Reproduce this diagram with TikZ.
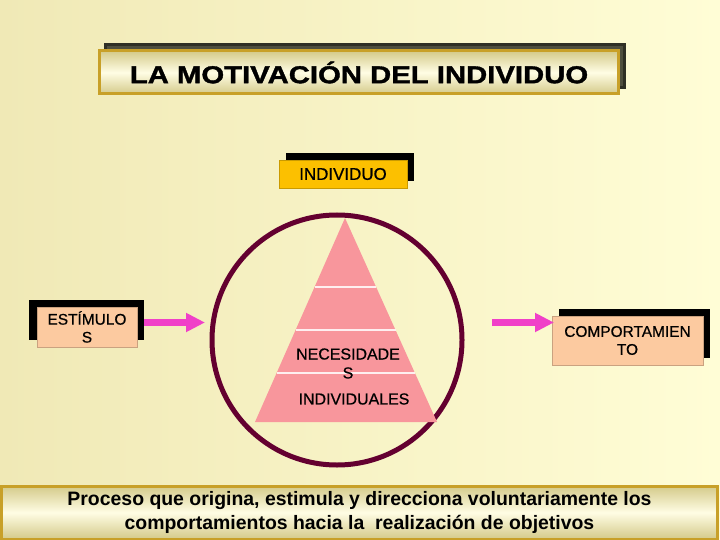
\documentclass[tikz,border=0pt]{standalone}
\usepackage{fontspec}
\setmainfont{Liberation Sans}
\newfontfamily\titfont{Liberation Sans}[FakeStretch=1.2,FakeBold=1.5]
\newfontfamily\cajafont{Liberation Sans}[FakeBold=0.6]
\usetikzlibrary{arrows.meta,shadows,calc}

\definecolor{fondoA}{RGB}{240,233,182}
\definecolor{fondoB}{RGB}{255,253,214}
\definecolor{caqui}{RGB}{212,202,138}
\definecolor{crema}{RGB}{255,253,228}
\definecolor{oro}{RGB}{200,160,40}
\definecolor{sombra}{RGB}{78,78,62}
\definecolor{amarillo}{RGB}{252,192,0}
\definecolor{durazno}{RGB}{252,202,160}
\definecolor{rosa}{RGB}{240,64,200}
\definecolor{granate}{RGB}{100,0,48}
\definecolor{salmon}{RGB}{248,150,156}

\begin{document}
\begin{tikzpicture}[x=1bp,y=-1bp,
    marco/.style={draw=oro,line width=3bp,top color=caqui,bottom color=caqui,middle color=crema},
    cajita/.style={draw=#1!80!black,fill=#1,line width=0.8bp,align=center,
        drop shadow={shadow xshift=7bp,shadow yshift=7bp,fill=black,opacity=1}},
    flecha/.style={rosa,line width=7bp,-{Triangle[length=19bp,width=18bp]}},
    rotulo/.style={font=\cajafont\fontsize{16}{19}\selectfont,align=center}]
    \useasboundingbox (0,0) rectangle (720,540);
    \fill[left color=fondoA,right color=fondoB] (0,0) rectangle (720,540);
    % titulo
    \draw (359,72.5) node[marco,minimum width=518bp,minimum height=43bp,
        drop shadow={shadow xshift=6bp,shadow yshift=6bp,fill=sombra,draw=sombra!60!black,opacity=1}]
        (tit) {\titfont\bfseries\fontsize{24.5}{28}\selectfont LA MOTIVACIÓN DEL INDIVIDUO};
    % cajas
    \draw (343,174) node[cajita=amarillo,minimum width=128bp,minimum height=28bp,
        font=\cajafont\fontsize{17}{20}\selectfont] (ind) {INDIVIDUO};
    \draw (87,327) node[cajita=durazno,minimum width=100bp,minimum height=40bp,
        font=\cajafont\fontsize{15.5}{18}\selectfont,drop shadow={shadow xshift=-8bp,shadow yshift=7bp,fill=black,opacity=1}]
        (est) {ESTÍMULO\\S};
    \draw (627.5,340.5) node[cajita=durazno,minimum width=151bp,minimum height=49bp,
        font=\cajafont\fontsize{15.5}{18}\selectfont] (comp) {COMPORTAMIEN\\TO};
    % circulo y piramide
    \draw (337,340) node[circle,draw=granate,line width=5bp,minimum size=250bp,inner sep=0] (circ) {};
    \coordinate (ap) at (345,218);
    \coordinate (bl) at (255,422);
    \coordinate (br) at (437,422);
    \fill[salmon] (ap) -- (bl) -- (br) -- cycle;
    \foreach \t in {0.338,0.549,0.760}
        \draw[white!85!salmon,line width=1.2bp] ($(ap)!\t!(bl)$) -- ($(ap)!\t!(br)$);
    \draw (348,363.5) node[rotulo] (nec) {NECESIDADE\\S};
    \draw (354,399) node[rotulo] (indiv) {INDIVIDUALES};
    % flechas
    \coordinate (a1) at (144,322.5);
    \coordinate (a2) at (205,322.5);
    \coordinate (b1) at (492,322.5);
    \coordinate (b2) at (554,322.5);
    \draw[flecha] (a1) -- (a2);
    \draw[flecha] (b1) -- (b2);
    % definicion
    \draw (359.5,512.5) node[marco,minimum width=715bp,minimum height=53bp,align=center,
        font=\bfseries\fontsize{19.5}{24}\selectfont] (obj)
        {Proceso que origina, estimula y direcciona voluntariamente los\\comportamientos hacia la\ \ realización de objetivos};
\end{tikzpicture}
\end{document}
